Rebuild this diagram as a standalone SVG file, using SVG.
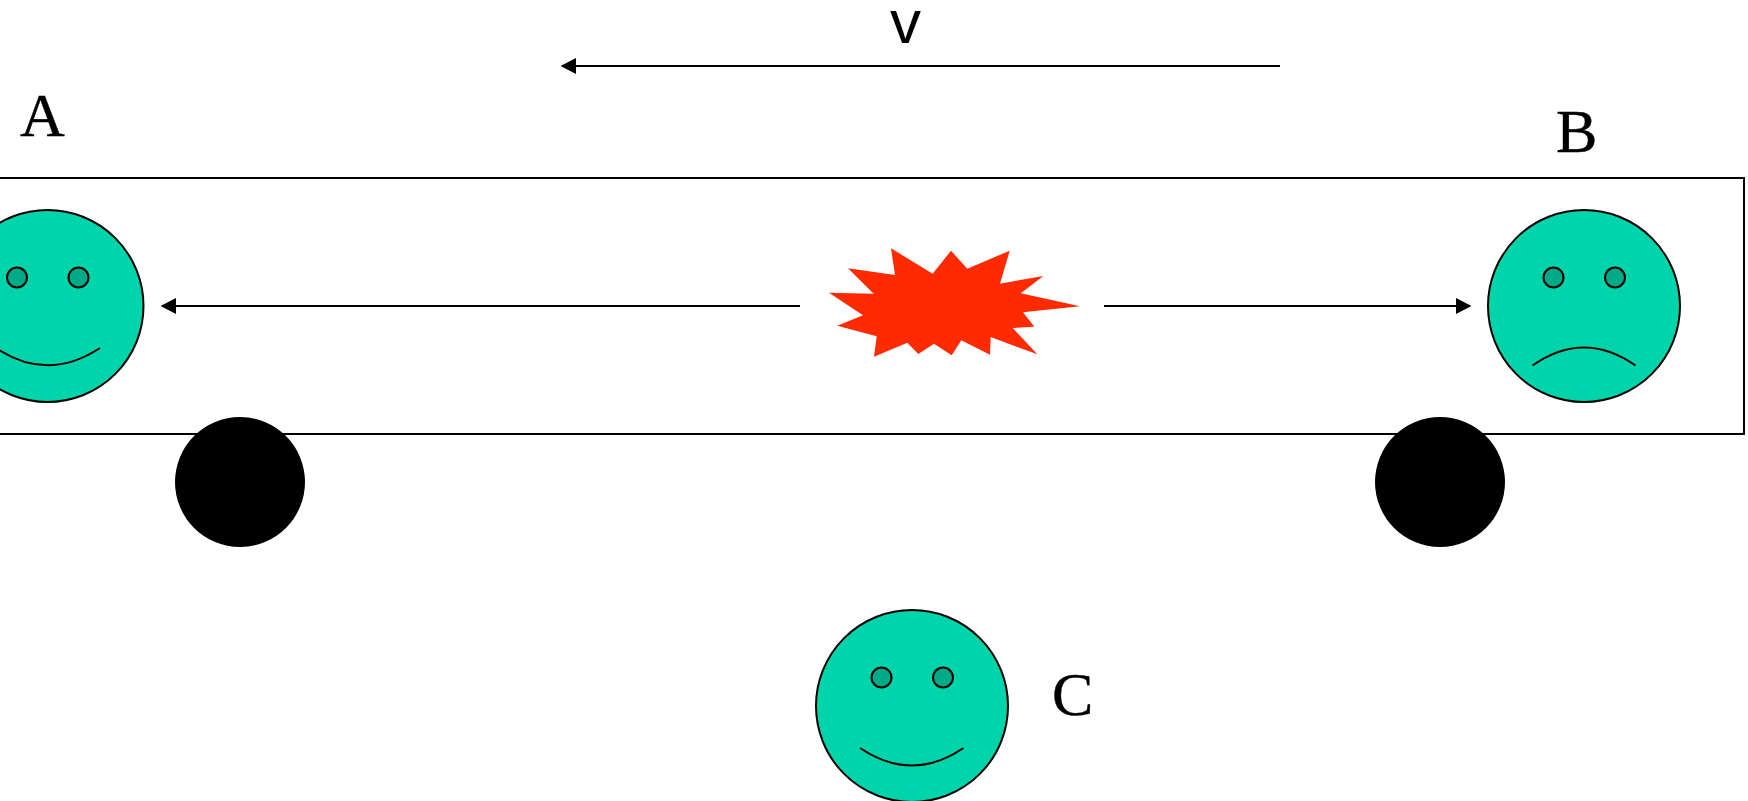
<svg xmlns="http://www.w3.org/2000/svg" width="1748" height="801" viewBox="0 0 1748 801">
<style>
.face{fill:#00d4aa;stroke:#000;stroke-width:2}
.eye{fill:#00aa88;stroke:#000;stroke-width:2}
.mouth{fill:none;stroke:#000;stroke-width:2}
.conn{fill:none;stroke:#000;stroke-width:2;marker-end:url(#arrow)}
.lbl{font-family:"Liberation Serif","Times New Roman",serif;font-size:62px;fill:#000;stroke:#000;stroke-width:.4}
.lblv{font-family:"Liberation Sans",Arial,sans-serif;font-size:62px;fill:#000}
</style>
<defs>
<marker id="arrow" markerUnits="userSpaceOnUse" markerWidth="16" markerHeight="16" refX="0" refY="8" orient="auto"><path d="M0,0 L15.5,8 L0,16 Z" fill="#000"/></marker>
<g id="eyes-mark"><circle class="eye" cx="-30.5" cy="-28.5" r="10"/><circle class="eye" cx="31" cy="-28.5" r="10"/></g>
</defs>
<rect id="box" x="-5" y="178" width="1749" height="256" fill="#fff" stroke="#000" stroke-width="2"/>
<g id="connectors">
<line class="conn" x1="800" y1="306" x2="176" y2="306"/>
<line class="conn" x1="1104" y1="306" x2="1456" y2="306"/>
<line class="conn" x1="1280" y1="66" x2="576" y2="66"/>
</g>
<g id="person-a">
<circle class="face" cx="47.5" cy="306" r="96"/>
<use href="#eyes-mark" x="47.5" y="306"/>
<path class="mouth" d="M-4,348 Q47.5,382.500 100,348"/>
<text class="lbl" x="20" y="136">A</text>
</g>
<g id="person-b">
<circle class="face" cx="1584" cy="306" r="96"/>
<use href="#eyes-mark" x="1584" y="306"/>
<path class="mouth" d="M1532.500,365.500 Q1584,329.500 1635.500,365.500"/>
<text class="lbl" x="1556" y="152">B</text>
</g>
<g id="person-c">
<circle class="face" cx="912" cy="706" r="96"/>
<use href="#eyes-mark" x="912" y="706"/>
<path class="mouth" d="M860,748 Q912,783 963.500,748"/>
<text class="lbl" x="1052" y="715">C</text>
</g>
<g id="wheel-a"><circle cx="240" cy="482" r="65" fill="#000"/></g>
<g id="wheel-b"><circle cx="1440" cy="482" r="65" fill="#000"/></g>
<g id="burst"><polygon fill="#ff2a00" points="891,248.300 932.700,273.700 951,250.700 967.300,268.700 1009.700,250.700 1000,283.700 1043.300,276 1020.700,293.300 1080,306.300 1023,312.300 1034.300,326.700 1012.700,328 1037.300,354.300 990.700,337 990,354.700 961.300,340.300 951.700,355.300 934,343.700 918.300,354 907.300,342.700 874,356.700 876.700,336.300 837.300,325.700 863,315.300 829,292.700 873.700,293.700 848,268.300 895,275"/></g>
<g id="label-v"><text class="lblv" x="890" y="43">v</text></g>
</svg>
